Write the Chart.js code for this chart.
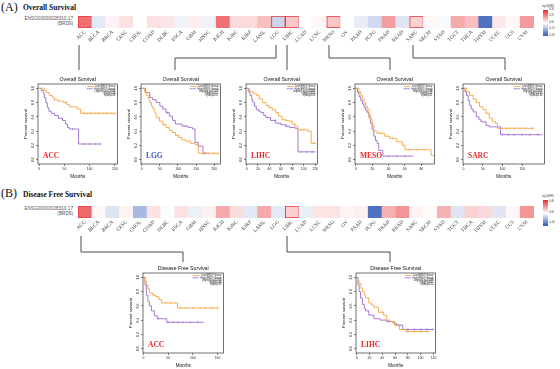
<!DOCTYPE html>
<html>
<head>
<meta charset="utf-8">
<script src="https://cdn.jsdelivr.net/npm/chart.js@4.4.1/dist/chart.umd.min.js"></script>
<style>
  html, body { margin: 0; padding: 0; background: #fff; }
  body { position: relative; width: 560px; height: 369px; overflow: hidden; font-family: "Liberation Sans", Arial, sans-serif; }
  .abs { position: absolute; white-space: nowrap; line-height: 1; }
  .tag { font-family: "Liberation Serif", serif; font-size: 12px; color: #111; }
  .head { font-family: "Liberation Serif", serif; font-weight: bold; font-size: 7.5px; color: #111; }
  .gene { font-size: 4.7px; color: #555; text-align: right; width: 72px; line-height: 4.8px; }
  canvas { position: absolute; }
  svg { position: absolute; left: 0; top: 0; }
  .cbar { position: absolute; width: 5px; }
  .cbt { position: absolute; font-size: 2.6px; color: #444; line-height: 1; white-space: nowrap; }
</style>
</head>
<body>
<div class="abs tag" style="left:1px;top:1px">(A)</div>
<div class="abs head" style="left:23px;top:4px">Overall Survival</div>
<div class="abs gene" style="left:1px;top:17px">ENSG00000028310.17<br>(BRD9)</div>

<div class="abs tag" style="left:1px;top:187px">(B)</div>
<div class="abs head" style="left:23px;top:191px">Disease Free Survival</div>
<div class="abs gene" style="left:1px;top:207px">ENSG00000028310.17<br>(BRD9)</div>

<!-- liens entre la heatmap et les panneaux -->
<svg width="560" height="369">
  <g fill="none" stroke="#4a4a4a" stroke-width="1">
    <polyline points="79,45 79,70"/>
    <polyline points="276,45 276,58 175,58 175,70"/>
    <polyline points="287,45 287,70"/>
    <polyline points="329,45 329,58 390,58 390,70"/>
    <polyline points="413,45 413,58 505,58 505,70"/>
    <polyline points="81,236 81,252 183,252 183,262"/>
    <polyline points="287,236 287,252 390,252 390,262"/>
  </g>
</svg>

<script>
// Types de cancer TCGA (ordre de la heatmap)
const CANCERS = ["ACC","BLCA","BRCA","CESC","CHOL","COAD","DLBC","ESCA","GBM","HNSC","KICH",
  "KIRC","KIRP","LAML","LGG","LIHC","LUAD","LUSC","MESO","OV","PAAD","PCPG","PRAD","READ",
  "SARC","SKCM","STAD","TGCT","THCA","THYM","UCEC","UCS","UVM"];

const OS_LOGHR = [0.33,-0.065,0.025,0.07,0,0.07,0.06,-0.04,0.04,-0.04,0.33,
  0.086,0.086,0.15,-0.13,0.13,0,0.02,0.13,0,-0.055,-0.115,0.22,-0.078,
  0.11,0.02,-0.015,0.2,0.15,-0.43,0.053,0.02,0.235];
const DFS_LOGHR = [0.35,0.02,-0.083,0.03,-0.21,0.067,-0.01,0.07,-0.046,0.035,0.2,
  0.08,-0.07,0.2,-0.065,0.11,-0.05,0.063,0.063,0.025,0.035,-0.43,0.18,0.25,
  0.03,0.01,0.18,-0.078,0.11,0.09,-0.076,0.02,0.25];
const OS_PICKED = ["ACC","LGG","LIHC","MESO","SARC"];
const DFS_PICKED = ["ACC","LIHC"];
const OS_BAR_TICKS = [0.5, 0.25, 0, -0.25, -0.5];
const DFS_BAR_TICKS = [0.4, 0, -0.4];

// Courbes Kaplan-Meier : [mois, survie]
const OS_ACC_LOW = [[0,1],[10,0.97],[14,0.94],[20,0.9],[26,0.87],[30,0.84],[36,0.82],[48,0.8],[55,0.77],[60,0.74],[75,0.71],[82,0.65],[152,0.65]];
const OS_ACC_HIGH = [[0,1],[4,0.97],[8,0.93],[10,0.87],[13,0.8],[16,0.73],[19,0.68],[24,0.65],[30,0.62],[38,0.58],[46,0.55],[52,0.5],[56,0.45],[60,0.43],[78,0.22],[123,0.22]];
const OS_LGG_LOW = [[0,1],[8,0.95],[13,0.9],[18,0.85],[22,0.8],[27,0.75],[31,0.71],[36,0.65],[40,0.59],[49,0.54],[58,0.49],[67,0.45],[76,0.41],[84,0.38],[93,0.34],[102,0.31],[111,0.28],[120,0.26],[135,0.23],[147,0.21],[156,0.09],[213,0.09]];
const OS_LGG_HIGH = [[0,1],[10,0.94],[22,0.87],[30,0.84],[40,0.8],[50,0.75],[58,0.71],[67,0.66],[76,0.61],[85,0.55],[93,0.5],[111,0.47],[128,0.45],[140,0.43],[147,0.24],[156,0.19],[169,0.09],[182,0.09]];
const OS_LIHC_LOW = [[0,1],[5,0.96],[10,0.93],[17,0.9],[22,0.85],[28,0.8],[34,0.76],[39,0.73],[45,0.7],[51,0.66],[56,0.61],[62,0.56],[68,0.55],[73,0.54],[80,0.5],[85,0.47],[90,0.42],[107,0.4],[113,0.23],[121,0.23]];
const OS_LIHC_HIGH = [[0,1],[3,0.95],[6,0.9],[9,0.84],[11,0.8],[14,0.75],[17,0.7],[21,0.68],[25,0.66],[30,0.62],[34,0.59],[42,0.55],[51,0.51],[60,0.49],[68,0.47],[75,0.45],[85,0.44],[90,0.11],[121,0.11]];
const OS_MESO_LOW = [[0,1],[4,0.95],[6,0.9],[8,0.85],[10,0.8],[12,0.75],[14,0.71],[16,0.63],[18,0.56],[20,0.48],[22,0.4],[26,0.37],[35,0.33],[41,0.3],[50,0.25],[57,0.2],[60,0.14],[90,0.14],[92,0.06],[95,0.06]];
const OS_MESO_HIGH = [[0,1],[2,0.94],[4,0.88],[6,0.83],[8,0.78],[10,0.73],[12,0.69],[14,0.66],[16,0.59],[18,0.51],[20,0.42],[22,0.33],[24,0.27],[26,0.23],[28,0.13],[33,0.05],[70,0.05]];
const OS_SARC_LOW = [[0,1],[8,0.95],[16,0.9],[25,0.85],[33,0.8],[41,0.74],[50,0.7],[58,0.65],[66,0.58],[74,0.53],[82,0.51],[87,0.44],[181,0.44]];
const OS_SARC_HIGH = [[0,1],[4,0.95],[8,0.9],[12,0.83],[16,0.76],[20,0.71],[25,0.67],[33,0.6],[40,0.56],[45,0.53],[58,0.48],[66,0.46],[87,0.46],[95,0.35],[202,0.35]];
const DFS_ACC_LOW = [[0,1],[3,0.94],[6,0.89],[9,0.84],[12,0.78],[19,0.75],[25,0.73],[31,0.69],[37,0.64],[69,0.57],[153,0.57]];
const DFS_ACC_HIGH = [[0,1],[3,0.89],[6,0.75],[9,0.66],[12,0.6],[16,0.53],[22,0.46],[28,0.42],[47,0.37],[122,0.37]];
const DFS_LIHC_LOW = [[0,1],[2,0.95],[4,0.91],[7,0.85],[9,0.8],[12,0.75],[14,0.71],[19,0.64],[23,0.61],[27,0.58],[34,0.51],[42,0.47],[47,0.4],[52,0.38],[59,0.33],[67,0.27],[77,0.24],[114,0.24]];
const DFS_LIHC_HIGH = [[0,1],[2,0.89],[4,0.8],[6,0.71],[9,0.62],[12,0.56],[14,0.53],[19,0.47],[27,0.42],[37,0.4],[47,0.38],[57,0.36],[62,0.33],[72,0.27],[121,0.27]];

// Censures (mois)
const OS_ACC_CENS = [[30,52,88,95,102,110,118,126,134,142,150],[45,66,90,100,112,120]];
const OS_LGG_CENS = [[60,100,170,185,200,210],[70,120,175]];
const OS_LIHC_CENS = [[40,70,95,100,118],[50,70,95,105,115]];
const OS_MESO_CENS = [[30,45,65,75,85],[40,50,60]];
const OS_SARC_CENS = [[60,100,110,120,130,145,160,175],[100,115,130,150,170,190]];
const DFS_ACC_CENS = [[20,45,55,75,85,100,115,125,140,150],[30,50,60,70,80,95,110]];
const DFS_LIHC_CENS = [[40,60,80,90,100,110],[50,65,80,90,100,110,118]];

const Y_TICKS = [0, 0.2, 0.4, 0.6, 0.8, 1.0];
const X_TICKS_150 = [0, 50, 100, 150];
const X_TICKS_200 = [0, 50, 100, 150, 200];
const X_TICKS_120 = [0, 20, 40, 60, 80, 100, 120];
const X_TICKS_80 = [0, 20, 40, 60, 80];

const LOW_COLOR = "#f6a441";
const HIGH_COLOR = "#9b6bcf";
const RED = [230, 40, 45], BLUE = [50, 90, 180], HR_MAX = 0.5;

function hrColor(v) {
  const t = Math.min(Math.abs(v) / HR_MAX, 1);
  const c = v >= 0 ? RED : BLUE;
  return `rgb(${c.map(ch => Math.round(255 + (ch - 255) * t)).join(",")})`;
}

function stepValue(curve, t) {
  let s = curve[0][1];
  for (const [x, y] of curve) { if (x <= t) s = y; else break; }
  return s;
}

function heatStrip(top, values, picked) {
  const cv = document.createElement("canvas");
  cv.width = 560; cv.height = 31;
  Object.assign(cv.style, { left: "0px", top: top + "px", width: "560px", height: "31px" });
  document.body.appendChild(cv);
  new Chart(cv, {
    type: "bar",
    data: {
      labels: CANCERS,
      datasets: [{
        data: CANCERS.map(() => 1),
        backgroundColor: values.map(hrColor),
        borderColor: CANCERS.map(c => picked.includes(c) ? "#e8383d" : "rgba(0,0,0,0)"),
        borderWidth: CANCERS.map(c => picked.includes(c) ? 1 : 0),
        borderSkipped: false,
        categoryPercentage: 1,
        barPercentage: 1,
      }],
    },
    options: {
      responsive: false, animation: false, devicePixelRatio: 1,
      layout: { padding: { left: 78, right: 26, top: 1, bottom: 0 } },
      plugins: { legend: { display: false }, tooltip: { enabled: false } },
      scales: {
        x: {
          grid: { display: false, drawTicks: false }, border: { display: false },
          afterFit: s => { s.height = 18; },
          ticks: { autoSkip: false, minRotation: 45, maxRotation: 45, padding: 1,
                   font: { size: 5.2, family: "Liberation Serif" }, color: "#444" },
        },
        y: { display: false, min: 0, max: 1 },
      },
    },
  });
}

function colorBar(left, top, height, ticks) {
  const bar = document.createElement("div");
  bar.className = "cbar";
  Object.assign(bar.style, { left: left + "px", top: top + "px", height: height + "px",
    background: `linear-gradient(${hrColor(HR_MAX)}, #ffffff, ${hrColor(-HR_MAX)})` });
  document.body.appendChild(bar);
  const t = document.createElement("div");
  t.className = "cbt"; t.textContent = "log10(HR)";
  Object.assign(t.style, { left: (left - 1) + "px", top: (top - 4) + "px" });
  document.body.appendChild(t);
  ticks.forEach(v => {
    const d = document.createElement("div");
    d.className = "cbt"; d.textContent = v.toFixed(2);
    const y = top + (HR_MAX - v) / (2 * HR_MAX) * height;
    Object.assign(d.style, { left: (left + 6) + "px", top: (y - 1.3) + "px" });
    document.body.appendChild(d);
  });
}

// Cadre, titre, légende et étiquette du type de cancer
const kmDecor = {
  id: "kmDecor",
  afterDraw(chart, args, o) {
    const { ctx, chartArea: a } = chart;
    ctx.save();
    ctx.strokeStyle = "#333"; ctx.lineWidth = 0.7;
    ctx.strokeRect(a.left, a.top, a.right - a.left, a.bottom - a.top);
    ctx.fillStyle = "#111";
    ctx.font = '5.2px "Liberation Sans"';
    ctx.textAlign = "center"; ctx.textBaseline = "middle";
    ctx.fillText(o.title, (a.left + a.right) / 2, a.top - 4.5);
    ctx.font = '2.6px "Liberation Sans"';
    ctx.textAlign = "right";
    const xr = a.right - 2;
    let y = a.top + 2.5;
    chart.data.datasets.slice(0, 2).forEach(ds => {
      const w = ctx.measureText(ds.label).width;
      ctx.fillStyle = "#222"; ctx.fillText(ds.label, xr, y);
      ctx.strokeStyle = ds.borderColor; ctx.lineWidth = 0.8;
      ctx.beginPath(); ctx.moveTo(xr - w - 8, y); ctx.lineTo(xr - w - 1.5, y); ctx.stroke();
      y += 2.3;
    });
    o.stats.forEach(s => { ctx.fillStyle = "#222"; ctx.fillText(s, xr, y); y += 2.3; });
    ctx.font = 'bold 7.5px "Liberation Serif"';
    ctx.textAlign = "left"; ctx.textBaseline = "alphabetic";
    ctx.fillStyle = o.labelColor;
    ctx.fillText(o.label, a.left + 5, a.bottom - 6);
    ctx.restore();
  },
};

function kmPanel(p) {
  const [l, t, r, b] = p.box;
  const PL = 22, PT = 10, PB = 15, PR = 2;
  const w = r - l + PL + PR, h = b - t + PT + PB;
  const cv = document.createElement("canvas");
  cv.width = w; cv.height = h;
  Object.assign(cv.style, { left: (l - PL) + "px", top: (t - PT) + "px", width: w + "px", height: h + "px" });
  document.body.appendChild(cv);

  const line = (label, pts, color) => ({
    label, data: pts.map(([x, y]) => ({ x, y })), borderColor: color,
    borderWidth: 0.9, stepped: true, pointRadius: 0, fill: false,
  });
  const cens = (curve, times, color) => ({
    type: "scatter", data: times.map(x => ({ x, y: stepValue(curve, x) })),
    pointStyle: "line", rotation: 90, pointRadius: 1.2,
    pointBorderColor: color, pointBorderWidth: 0.6, borderColor: color, showLine: false,
  });
  const axisGrid = { drawOnChartArea: false, drawTicks: true, tickLength: 2, color: "#333", lineWidth: 0.6 };

  new Chart(cv, {
    type: "line",
    data: { datasets: [
      line("Low BRD9 Group", p.low, LOW_COLOR),
      line("High BRD9 Group", p.high, HIGH_COLOR),
      cens(p.low, p.cens[0], LOW_COLOR),
      cens(p.high, p.cens[1], HIGH_COLOR),
    ] },
    options: {
      responsive: false, animation: false, devicePixelRatio: 1,
      layout: { padding: { left: 7, top: PT, right: PR, bottom: 0 } },
      plugins: {
        legend: { display: false }, tooltip: { enabled: false },
        kmDecor: { title: p.title, label: p.label, labelColor: p.color, stats: p.stats },
      },
      scales: {
        x: {
          type: "linear", min: p.xmin, max: p.xmax,
          afterBuildTicks: s => { s.ticks = p.xticks.map(v => ({ value: v })); },
          afterFit: s => { s.height = PB; },
          grid: axisGrid, border: { display: false },
          ticks: { font: { size: 3.4 }, color: "#222", padding: 1, maxRotation: 0, autoSkip: false },
          title: { display: true, text: "Months", font: { size: 4.6 }, color: "#111", padding: 0 },
        },
        y: {
          min: -0.06, max: 1.06,
          afterBuildTicks: s => { s.ticks = Y_TICKS.map(v => ({ value: v })); },
          afterFit: s => { s.width = PL - 7; },
          grid: axisGrid, border: { display: false },
          ticks: { font: { size: 3.4 }, color: "#222", padding: 1, minRotation: 90, maxRotation: 90,
                   crossAlign: "center", callback: v => v.toFixed(1) },
          title: { display: true, text: "Percent survival", font: { size: 4.2 }, color: "#111", padding: 0 },
        },
      },
    },
    plugins: [kmDecor],
  });
}

const RED_TXT = "#e8262b", BLUE_TXT = "#3b5bd0";
const OS = "Overall Survival", DFS = "Disease Free Survival";
const stats = (p, n) => ["Logrank p=" + p, "n(high)=" + n, "n(low)=" + n];

heatStrip(15, OS_LOGHR, OS_PICKED);
heatStrip(205, DFS_LOGHR, DFS_PICKED);
colorBar(543, 10, 26, OS_BAR_TICKS);
colorBar(543, 200, 26, DFS_BAR_TICKS);

[
  { box: [38, 84, 120, 164], xmin: -2.5, xmax: 155, xticks: X_TICKS_150, title: OS, label: "ACC", color: RED_TXT,
    low: OS_ACC_LOW, high: OS_ACC_HIGH, cens: OS_ACC_CENS, stats: stats("0.0041", 38) },
  { box: [141, 84, 223, 164], xmin: -2, xmax: 217, xticks: X_TICKS_200, title: OS, label: "LGG", color: BLUE_TXT,
    low: OS_LGG_LOW, high: OS_LGG_HIGH, cens: OS_LGG_CENS, stats: stats("0.017", 257) },
  { box: [246, 84, 320, 164], xmin: -1, xmax: 124, xticks: X_TICKS_120, title: OS, label: "LIHC", color: RED_TXT,
    low: OS_LIHC_LOW, high: OS_LIHC_HIGH, cens: OS_LIHC_CENS, stats: stats("0.00061", 182) },
  { box: [355, 84, 437, 164], xmin: -1, xmax: 96, xticks: X_TICKS_80, title: OS, label: "MESO", color: RED_TXT,
    low: OS_MESO_LOW, high: OS_MESO_HIGH, cens: OS_MESO_CENS, stats: stats("0.038", 41) },
  { box: [463, 84, 547, 164], xmin: -1, xmax: 207, xticks: X_TICKS_150, title: OS, label: "SARC", color: RED_TXT,
    low: OS_SARC_LOW, high: OS_SARC_HIGH, cens: OS_SARC_CENS, stats: stats("0.007", 130) },
  { box: [143, 273, 226, 353], xmin: -1, xmax: 162, xticks: X_TICKS_150, title: DFS, label: "ACC", color: RED_TXT,
    low: DFS_ACC_LOW, high: DFS_ACC_HIGH, cens: DFS_ACC_CENS, stats: stats("0.023", 38) },
  { box: [356, 273, 438, 353], xmin: -1, xmax: 123, xticks: X_TICKS_120, title: DFS, label: "LIHC", color: RED_TXT,
    low: DFS_LIHC_LOW, high: DFS_LIHC_HIGH, cens: DFS_LIHC_CENS, stats: stats("0.039", 182) },
].forEach(kmPanel);
</script>
</body>
</html>
